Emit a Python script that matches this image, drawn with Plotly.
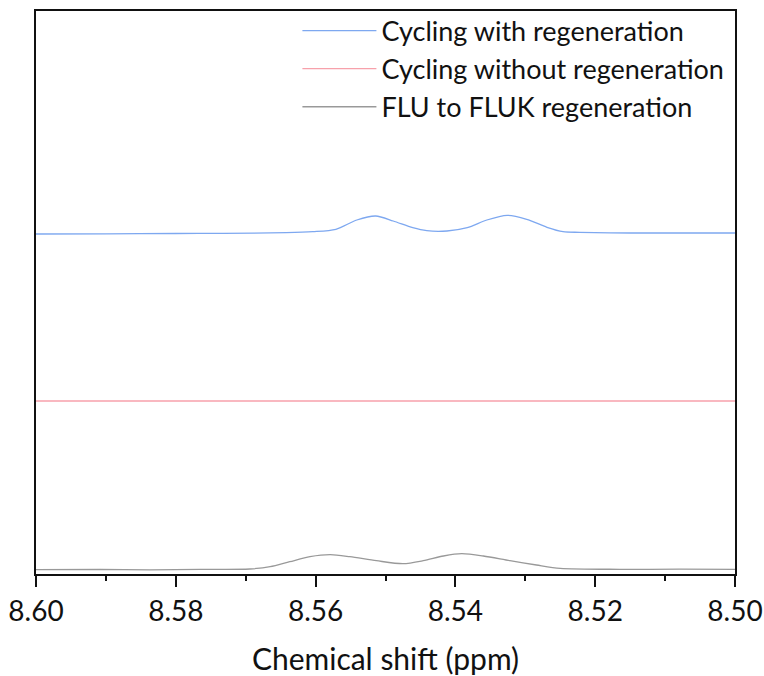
import plotly.graph_objects as go

# Chemical shift (ppm) sample positions and intensities (arbitrary units)
blue_x = [8.600, 8.590, 8.580, 8.5732, 8.5642, 8.5604, 8.5571, 8.5541, 8.5514, 8.5489,
          8.5461, 8.5441, 8.5412, 8.5383, 8.5355, 8.5326, 8.5298, 8.5269, 8.5246, 8.5222,
          8.515, 8.500]
blue_y = [340.0, 340.2, 340.5, 340.7, 341.3, 342.3, 344.7, 354.0, 358.0, 353.0,
          346.3, 343.3, 343.0, 346.3, 354.0, 358.7, 354.7, 346.7, 342.3, 341.7,
          341.0, 341.0]

red_x = [8.600, 8.575, 8.550, 8.525, 8.500]
red_y = [173.0, 173.0, 173.0, 173.0, 173.0]

gray_x = [8.600, 8.5908, 8.5837, 8.5765, 8.5694, 8.5665, 8.5637, 8.5608, 8.5579, 8.5551,
          8.5513, 8.5475, 8.5446, 8.5417, 8.5391, 8.5360, 8.5322, 8.5284, 8.5250, 8.5165,
          8.5079, 8.500]
gray_y = [4.3, 4.5, 4.2, 4.6, 5.0, 7.3, 12.3, 17.3, 19.3, 17.3,
          13.3, 10.3, 13.3, 18.0, 20.3, 18.0, 13.3, 9.0, 5.7, 4.7,
          4.8, 4.7]

names = ["Cycling with regeneration", "Cycling without regeneration", "FLU to FLUK regeneration"]
colors = ["#7EA8F0", "#F7A1AB", "#999999"]

FONT = "Lato"

fig = go.Figure()
for i, (xs, ys, nm, c) in enumerate([(blue_x, blue_y, names[0], colors[0]),
                                     (red_x, red_y, names[1], colors[1]),
                                     (gray_x, gray_y, names[2], colors[2])]):
    fig.add_trace(go.Scatter(x=xs, y=ys, mode="lines", name=nm, legendgroup=f"g{i}",
                             line=dict(color=c, width=1.3, shape="spline", smoothing=0.8)))

fig.update_layout(
    width=764, height=676,
    margin=dict(l=36, r=29, t=11, b=102, autoexpand=False),
    paper_bgcolor="white", plot_bgcolor="white",
    font=dict(family=FONT, size=26, color="#111111"),
    showlegend=True,
    legend=dict(x=0.992, xanchor="right", y=1.008, yanchor="top",
                bgcolor="rgba(0,0,0,0)", borderwidth=0,
                font=dict(family=FONT, size=27, color="#111111"),
                itemwidth=74, tracegroupgap=0),
    xaxis=dict(range=[8.60, 8.50], tickmode="linear", tick0=8.50, dtick=0.02,
               tickformat=".2f", ticks="outside", ticklen=11, tickwidth=2, tickcolor="#111",
               showline=True, linecolor="#111", linewidth=2, mirror=True,
               showgrid=False, zeroline=False, automargin=False,
               minor=dict(ticks="outside", ticklen=5, tickwidth=2, tickcolor="#111",
                          dtick=0.01, tick0=8.50, showgrid=False),
               tickfont=dict(family=FONT, size=28, color="#111"),
               title=dict(text="Chemical shift (ppm)", standoff=29,
                          font=dict(family=FONT, size=30, color="#111"))),
    yaxis=dict(range=[0, 563], showticklabels=False, ticks="", showgrid=False,
               zeroline=False, showline=True, linecolor="#111", linewidth=2, mirror=True,
               automargin=False),
)

fig.write_html("out.html", config={"displayModeBar": False},
               post_script="document.body.style.margin='0';document.body.style.overflow='hidden';")
